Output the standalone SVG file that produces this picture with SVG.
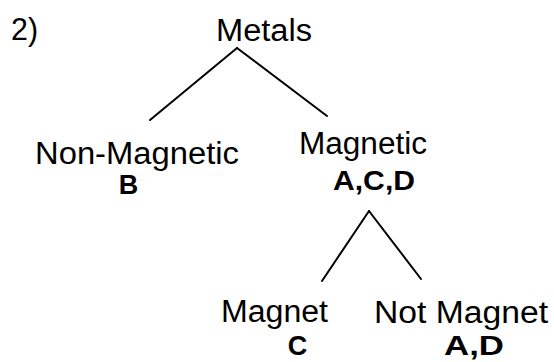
<svg xmlns="http://www.w3.org/2000/svg" width="554" height="362" viewBox="0 0 554 362">
<style>
.t{font-family:"Liberation Sans",Arial,sans-serif;font-size:31px;fill:#000}
.b{font-family:"Liberation Sans",Arial,sans-serif;font-size:27px;font-weight:bold;fill:#000}
.c{stroke:#000;stroke-width:2;fill:none;stroke-linecap:round}
</style>
<rect width="554" height="362" fill="#fff"/>
<text class="t" x="11" y="40" textLength="27" lengthAdjust="spacingAndGlyphs">2)</text>
<g id="metals"><text class="t" x="216" y="41" textLength="96" lengthAdjust="spacingAndGlyphs">Metals</text></g>
<g id="nonmagnetic"><text class="t" x="35" y="164" textLength="204" lengthAdjust="spacingAndGlyphs">Non-Magnetic</text><text class="b" x="128.5" y="194" text-anchor="middle">B</text></g>
<g id="magnetic"><text class="t" x="299" y="154" textLength="128" lengthAdjust="spacingAndGlyphs">Magnetic</text><text class="b" x="333" y="190" textLength="82" lengthAdjust="spacingAndGlyphs">A,C,D</text></g>
<g id="magnet"><text class="t" x="221" y="322" textLength="107" lengthAdjust="spacingAndGlyphs">Magnet</text><text class="b" x="297.5" y="355" text-anchor="middle">C</text></g>
<g id="notmagnet"><text class="t" x="374" y="323" textLength="174" lengthAdjust="spacingAndGlyphs">Not Magnet</text><text class="b" x="444" y="355" textLength="60" lengthAdjust="spacingAndGlyphs">A,D</text></g>
<g id="connectors">
<line class="c" x1="237" y1="48" x2="150" y2="120"/>
<line class="c" x1="237" y1="48" x2="327" y2="116"/>
<line class="c" x1="369" y1="211" x2="322" y2="281"/>
<line class="c" x1="369" y1="211" x2="421" y2="279"/>
</g>
</svg>
